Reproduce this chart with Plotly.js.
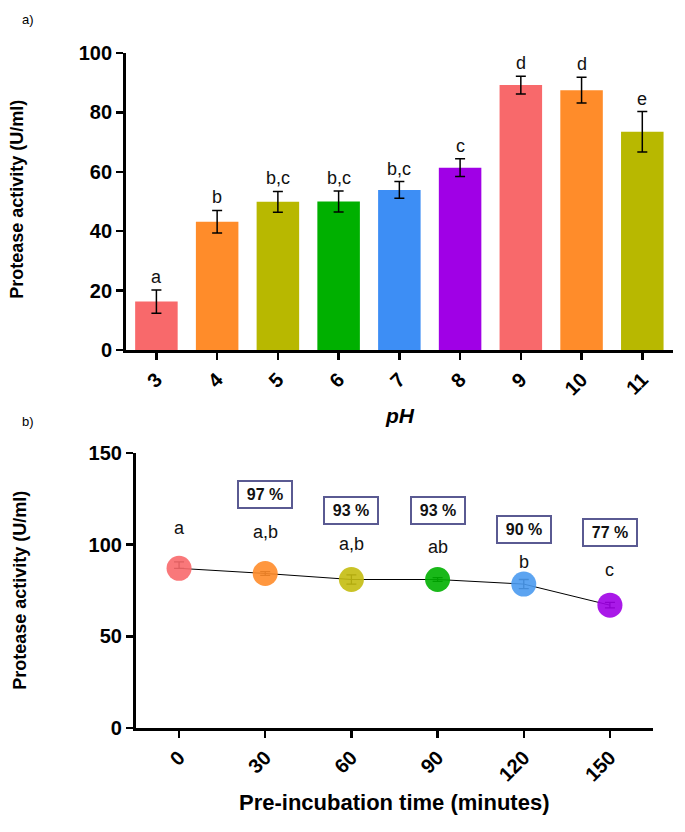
<!DOCTYPE html>
<html>
<head>
<meta charset="utf-8">
<script src="https://cdn.plot.ly/plotly-3.0.1.min.js"></script>
<style>html,body{margin:0;padding:0;background:#fff;}#chart{width:685px;height:832px;}</style>
</head>
<body>
<div id="chart"></div>
<script>
// ---- Data: panel a (pH) ----
const phCategories = ['3', '4', '5', '6', '7', '8', '9', '10', '11'];
const phActivity = [16.3, 43.2, 49.9, 50.0, 53.9, 61.4, 89.2, 87.5, 73.5];
const phError = [3.9, 3.8, 3.5, 3.5, 2.8, 3.0, 3.0, 4.3, 6.8];
const phLetters = ['a', 'b', 'b,c', 'b,c', 'b,c', 'c', 'd', 'd', 'e'];

// ---- Data: panel b (pre-incubation time) ----
const timeMinutes = [0, 30, 60, 90, 120, 150];
const timeActivity = [87.1, 84.3, 81.0, 81.0, 78.5, 67.0];
const timeErrorPlus = [3.5, 1.0, 2.5, 1.0, 2.5, 1.5];
const timeErrorMinus = [0, 1.0, 2.5, 1.0, 2.5, 1.5];
const timeLetters = ['a', 'a,b', 'a,b', 'ab', 'b', 'c'];
const residualPercent = ['', '97 %', '93 %', '93 %', '90 %', '77 %'];

// ---- Styles ----
const barColors = ['#F8696B', '#FF8C2A', '#B8B800', '#00B000', '#3D8EF5', '#A000E6', '#F8696B', '#FF8C2A', '#B8B800'];
const markerColors = ['#F8696B', '#FF8C2A', '#C4BC10', '#00B000', '#4A9AF0', '#A000E6'];
const letterShift = [40, 41, 36, 33, 22, 35];
const boxShift = [0, 79, 69, 69, 55, 73];

const FONT = 'Liberation Sans, Arial, sans-serif';

const traces = [
  {
    type: 'bar', x: phCategories, y: phActivity, xaxis: 'x', yaxis: 'y',
    marker: {color: barColors, line: {width: 0}}, width: 0.7,
    error_y: {type: 'data', array: phError, visible: true, color: '#000', thickness: 1.5, width: 5},
    hoverinfo: 'x+y', showlegend: false
  },
  {
    type: 'scatter', mode: 'lines', x: timeMinutes, y: timeActivity, xaxis: 'x2', yaxis: 'y2',
    line: {color: '#000', width: 1}, showlegend: false, hoverinfo: 'skip'
  },
  {
    type: 'scatter', mode: 'markers', x: timeMinutes, y: timeActivity, xaxis: 'x2', yaxis: 'y2',
    marker: {color: markerColors, size: 25, opacity: 0.9, line: {width: 0}},
    error_y: {type: 'data', symmetric: false, array: timeErrorPlus, arrayminus: timeErrorMinus, visible: true, color: '#000', thickness: 1.3, width: 5},
    showlegend: false
  }
];

const annotations = [];
phCategories.forEach((c, i) => {
  annotations.push({
    x: i, y: phActivity[i] + phError[i], xref: 'x', yref: 'y', text: phLetters[i],
    showarrow: false, xanchor: 'center', yanchor: 'middle', yshift: 13,
    font: {family: FONT, size: 18, color: '#111'}
  });
});
timeMinutes.forEach((t, i) => {
  annotations.push({
    x: t, y: timeActivity[i], xref: 'x2', yref: 'y2', text: timeLetters[i],
    showarrow: false, xanchor: 'center', yanchor: 'middle', yshift: letterShift[i],
    font: {family: FONT, size: 18, color: '#111'}
  });
  if (residualPercent[i]) {
    annotations.push({
      x: t, y: timeActivity[i], xref: 'x2', yref: 'y2', text: residualPercent[i],
      showarrow: false, xanchor: 'center', yanchor: 'middle', yshift: boxShift[i],
      width: 46, height: 19, borderpad: 3, bordercolor: '#5A5A92', borderwidth: 2,
      font: {family: FONT, size: 16, color: '#111', weight: 'bold'}
    });
  }
});
// panel labels and axis titles
const paperText = (x, y, text, size, opts) => Object.assign({
  xref: 'paper', yref: 'paper', x: x, y: y, text: text, showarrow: false,
  xanchor: 'center', yanchor: 'middle',
  font: {family: FONT, size: size, color: '#000', weight: 'bold'}
}, opts || {});
annotations.push(
  paperText(0.041, 0.976, 'a)', 13, {font: {family: FONT, size: 13, color: '#000'}}),
  paperText(0.041, 0.4928, 'b)', 13, {font: {family: FONT, size: 13, color: '#000'}}),
  paperText(0.584, 0.501, '<i>pH</i>', 21),
  paperText(0.025, 0.76, 'Protease activity (U/ml)', 18, {textangle: -90}),
  paperText(0.029, 0.291, 'Protease activity (U/ml)', 18, {textangle: -90}),
  paperText(0.575, 0.035, 'Pre-incubation time (minutes)', 22)
);

const axisCommon = {
  showline: true, linecolor: '#000', linewidth: 3, showgrid: false, zeroline: false,
  ticks: 'outside', ticklen: 7, tickwidth: 2.5, tickcolor: '#000',
  tickfont: {family: FONT, size: 20, color: '#000', weight: 'bold'}, fixedrange: true
};

const layout = {
  width: 685, height: 832,
  margin: {l: 0, r: 0, t: 0, b: 0},
  paper_bgcolor: '#fff', plot_bgcolor: '#fff',
  showlegend: false,
  xaxis: Object.assign({}, axisCommon, {
    domain: [0.184, 0.982], anchor: 'y', type: 'category', range: [-0.5, 8.5], tickangle: -45
  }),
  yaxis: Object.assign({}, axisCommon, {
    domain: [0.5793, 0.9363], anchor: 'x', range: [0, 100], tickvals: [0, 20, 40, 60, 80, 100]
  }),
  xaxis2: Object.assign({}, axisCommon, {
    domain: [0.1985, 0.9533], anchor: 'y2', range: [-15, 165], tickvals: timeMinutes, tickangle: -45
  }),
  yaxis2: Object.assign({}, axisCommon, {
    domain: [0.125, 0.4555], anchor: 'x2', range: [0, 150], tickvals: [0, 50, 100, 150]
  }),
  annotations: annotations
};

Plotly.newPlot('chart', traces, layout, {displayModeBar: false, staticPlot: true});
</script>
</body>
</html>
